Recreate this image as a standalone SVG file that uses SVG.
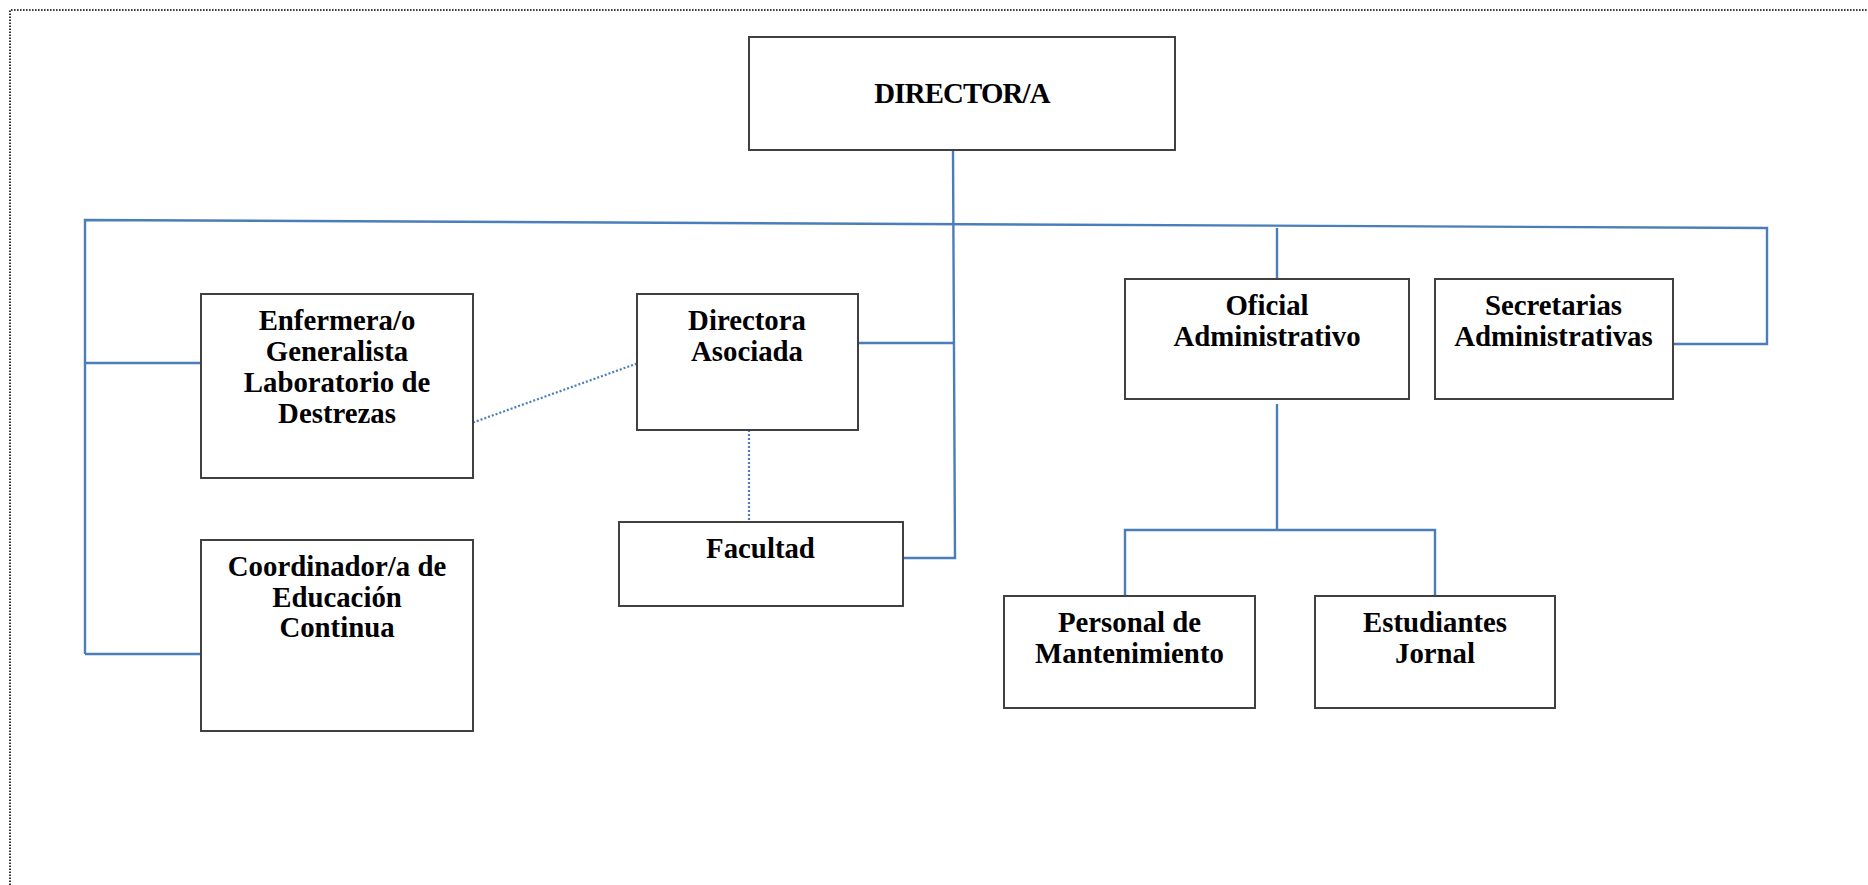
<svg xmlns="http://www.w3.org/2000/svg" width="1868" height="885" viewBox="0 0 1868 885">
<style>
.box{fill:#ffffff;stroke:#404040;stroke-width:2}
.lbl{font-family:"Liberation Serif","Times New Roman",serif;font-weight:bold;font-size:28.8px;fill:#000000;text-anchor:middle}
.con{fill:none;stroke:#4A7EBB;stroke-width:2.4}
.dot{fill:none;stroke:#4A7EBB;stroke-width:2.2;stroke-dasharray:2 2}
.frame{fill:none;stroke:#000000;stroke-width:1.6;stroke-dasharray:1.6 1.4}
</style>
<rect width="1868" height="885" fill="#ffffff"/>
<g id="frame">
<polyline class="frame" points="10,885 10,10 1868,10"/>
</g>
<g id="connectors">
<polyline class="con" points="85,654 85,220 1767,228 1767,344 1673,344"/>
<line class="con" x1="85" y1="363" x2="201" y2="363"/>
<line class="con" x1="85" y1="654" x2="201" y2="654"/>
<polyline class="con" points="953,150 955,558 903,558"/>
<line class="con" x1="858" y1="343" x2="954" y2="343"/>
<line class="con" x1="1277" y1="228" x2="1277" y2="279"/>
<line class="con" x1="1277" y1="404" x2="1277" y2="530"/>
<polyline class="con" points="1125,596 1125,530 1435,530 1435,596"/>
<line class="dot" x1="473" y1="422.5" x2="637" y2="363.5"/>
<line class="dot" x1="749" y1="430" x2="749" y2="522"/>
</g>
<g id="director">
<rect class="box" x="749" y="37" width="426" height="113"/>
<text class="lbl" x="962" y="103" letter-spacing="-0.8" font-size="24.5">DIRECTOR/A</text>
</g>
<g id="enfermera">
<rect class="box" x="201" y="294" width="272" height="184"/>
<text class="lbl" x="337" y="330">Enfermera/o</text>
<text class="lbl" x="337" y="361">Generalista</text>
<text class="lbl" x="337" y="392">Laboratorio de</text>
<text class="lbl" x="337" y="423">Destrezas</text>
</g>
<g id="coordinador">
<rect class="box" x="201" y="540" width="272" height="191"/>
<text class="lbl" x="337" y="576">Coordinador/a de</text>
<text class="lbl" x="337" y="607">Educación</text>
<text class="lbl" x="337" y="637">Continua</text>
</g>
<g id="directora-asociada">
<rect class="box" x="637" y="294" width="221" height="136"/>
<text class="lbl" x="747" y="330">Directora</text>
<text class="lbl" x="747" y="361">Asociada</text>
</g>
<g id="facultad">
<rect class="box" x="619" y="522" width="284" height="84"/>
<text class="lbl" x="760.5" y="558">Facultad</text>
</g>
<g id="oficial">
<rect class="box" x="1125" y="279" width="284" height="120"/>
<text class="lbl" x="1267" y="315">Oficial</text>
<text class="lbl" x="1267" y="346">Administrativo</text>
</g>
<g id="secretarias">
<rect class="box" x="1435" y="279" width="238" height="120"/>
<text class="lbl" x="1553.5" y="315">Secretarias</text>
<text class="lbl" x="1553.5" y="346">Administrativas</text>
</g>
<g id="personal">
<rect class="box" x="1004" y="596" width="251" height="112"/>
<text class="lbl" x="1129.5" y="632">Personal de</text>
<text class="lbl" x="1129.5" y="662.5">Mantenimiento</text>
</g>
<g id="estudiantes">
<rect class="box" x="1315" y="596" width="240" height="112"/>
<text class="lbl" x="1435" y="632">Estudiantes</text>
<text class="lbl" x="1435" y="662.5">Jornal</text>
</g>
</svg>
